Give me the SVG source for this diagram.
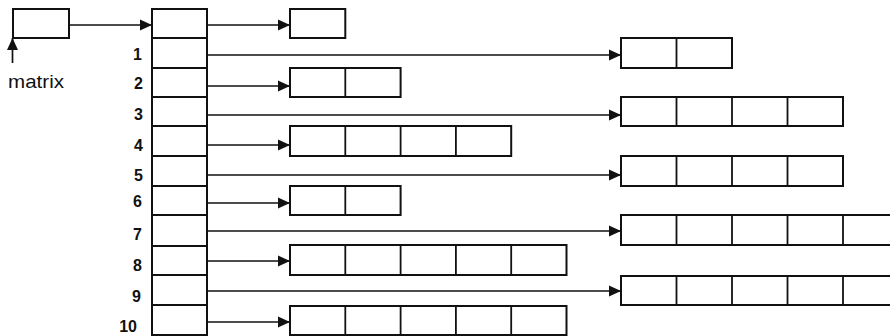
<svg xmlns="http://www.w3.org/2000/svg" width="890" height="336" viewBox="0 0 890 336">
<style>
.box{fill:none;stroke:#111;stroke-width:2}
.div{stroke:#111;stroke-width:1.8}
.con{stroke:#111;stroke-width:1.7;fill:none}
.num{font-family:"Liberation Sans",Arial,sans-serif;font-size:16px;font-weight:bold;fill:#111;text-anchor:end}
.lbl{font-family:"Liberation Sans",Arial,sans-serif;font-size:19px;fill:#111}
</style>
<defs>
<marker id="ah" markerUnits="userSpaceOnUse" markerWidth="13" markerHeight="12" viewBox="0 0 13 12" refX="12" refY="6" orient="auto">
<path d="M0,0.5 L12,6 L0,11.5 Z" fill="#111"/>
</marker>
</defs>
<rect width="890" height="336" fill="#fff"/>

<g id="matrix">
<rect class="box" x="13" y="9" width="56" height="29"/>
<text class="lbl" x="8" y="88" textLength="56" lengthAdjust="spacingAndGlyphs">matrix</text>
</g>

<g id="index-column">
<rect class="box" x="152" y="9" width="55" height="326"/>
<line class="div" x1="152" y1="38" x2="207" y2="38"/>
<line class="div" x1="152" y1="68" x2="207" y2="68"/>
<line class="div" x1="152" y1="97" x2="207" y2="97"/>
<line class="div" x1="152" y1="126" x2="207" y2="126"/>
<line class="div" x1="152" y1="156" x2="207" y2="156"/>
<line class="div" x1="152" y1="186" x2="207" y2="186"/>
<line class="div" x1="152" y1="215" x2="207" y2="215"/>
<line class="div" x1="152" y1="246" x2="207" y2="246"/>
<line class="div" x1="152" y1="275" x2="207" y2="275"/>
<line class="div" x1="152" y1="305" x2="207" y2="305"/>
<text class="num" x="142" y="60">1</text>
<text class="num" x="143" y="89">2</text>
<text class="num" x="143" y="120">3</text>
<text class="num" x="143" y="151">4</text>
<text class="num" x="143" y="181">5</text>
<text class="num" x="142" y="207">6</text>
<text class="num" x="142" y="240">7</text>
<text class="num" x="142" y="271">8</text>
<text class="num" x="141" y="302">9</text>
<text class="num" x="137" y="332">10</text>
</g>

<g id="row0">
<rect class="box" x="290" y="9" width="55.3" height="29"/>
</g>
<g id="row1">
<rect class="box" x="621" y="38" width="111" height="30"/>
<line class="div" x1="676.5" y1="38" x2="676.5" y2="68"/>
</g>
<g id="row2">
<rect class="box" x="290" y="68" width="110.6" height="29"/>
<line class="div" x1="345.3" y1="68" x2="345.3" y2="97"/>
</g>
<g id="row3">
<rect class="box" x="621" y="97" width="222" height="29"/>
<line class="div" x1="676.5" y1="97" x2="676.5" y2="126"/>
<line class="div" x1="732" y1="97" x2="732" y2="126"/>
<line class="div" x1="787.5" y1="97" x2="787.5" y2="126"/>
</g>
<g id="row4">
<rect class="box" x="290" y="126" width="221.2" height="30"/>
<line class="div" x1="345.3" y1="126" x2="345.3" y2="156"/>
<line class="div" x1="400.6" y1="126" x2="400.6" y2="156"/>
<line class="div" x1="455.9" y1="126" x2="455.9" y2="156"/>
</g>
<g id="row5">
<rect class="box" x="621" y="156" width="222" height="30"/>
<line class="div" x1="676.5" y1="156" x2="676.5" y2="186"/>
<line class="div" x1="732" y1="156" x2="732" y2="186"/>
<line class="div" x1="787.5" y1="156" x2="787.5" y2="186"/>
</g>
<g id="row6">
<rect class="box" x="290" y="186" width="110.6" height="29"/>
<line class="div" x1="345.3" y1="186" x2="345.3" y2="215"/>
</g>
<g id="row7">
<rect class="box" x="621" y="215" width="277.5" height="30"/>
<line class="div" x1="676.5" y1="215" x2="676.5" y2="245"/>
<line class="div" x1="732" y1="215" x2="732" y2="245"/>
<line class="div" x1="787.5" y1="215" x2="787.5" y2="245"/>
<line class="div" x1="843" y1="215" x2="843" y2="245"/>
</g>
<g id="row8">
<rect class="box" x="290" y="245" width="276.5" height="30"/>
<line class="div" x1="345.3" y1="245" x2="345.3" y2="275"/>
<line class="div" x1="400.6" y1="245" x2="400.6" y2="275"/>
<line class="div" x1="455.9" y1="245" x2="455.9" y2="275"/>
<line class="div" x1="511.2" y1="245" x2="511.2" y2="275"/>
</g>
<g id="row9">
<rect class="box" x="621" y="276" width="277.5" height="29"/>
<line class="div" x1="676.5" y1="276" x2="676.5" y2="305"/>
<line class="div" x1="732" y1="276" x2="732" y2="305"/>
<line class="div" x1="787.5" y1="276" x2="787.5" y2="305"/>
<line class="div" x1="843" y1="276" x2="843" y2="305"/>
</g>
<g id="row10">
<rect class="box" x="290" y="306" width="276.5" height="29"/>
<line class="div" x1="345.3" y1="306" x2="345.3" y2="335"/>
<line class="div" x1="400.6" y1="306" x2="400.6" y2="335"/>
<line class="div" x1="455.9" y1="306" x2="455.9" y2="335"/>
<line class="div" x1="511.2" y1="306" x2="511.2" y2="335"/>
</g>

<g id="connectors">
<line class="con" x1="12.5" y1="63" x2="12.5" y2="38" marker-end="url(#ah)"/>
<line class="con" x1="69" y1="25" x2="152" y2="25" marker-end="url(#ah)"/>
<line class="con" x1="207" y1="25" x2="290" y2="25" marker-end="url(#ah)"/>
<line class="con" x1="207" y1="55" x2="621" y2="55" marker-end="url(#ah)"/>
<line class="con" x1="207" y1="86" x2="290" y2="86" marker-end="url(#ah)"/>
<line class="con" x1="207" y1="115" x2="621" y2="115" marker-end="url(#ah)"/>
<line class="con" x1="207" y1="145" x2="290" y2="145" marker-end="url(#ah)"/>
<line class="con" x1="207" y1="175" x2="621" y2="175" marker-end="url(#ah)"/>
<line class="con" x1="207" y1="203" x2="290" y2="203" marker-end="url(#ah)"/>
<line class="con" x1="207" y1="231" x2="621" y2="231" marker-end="url(#ah)"/>
<line class="con" x1="207" y1="261" x2="290" y2="261" marker-end="url(#ah)"/>
<line class="con" x1="207" y1="291" x2="621" y2="291" marker-end="url(#ah)"/>
<line class="con" x1="207" y1="322" x2="290" y2="322" marker-end="url(#ah)"/>
</g>
</svg>
